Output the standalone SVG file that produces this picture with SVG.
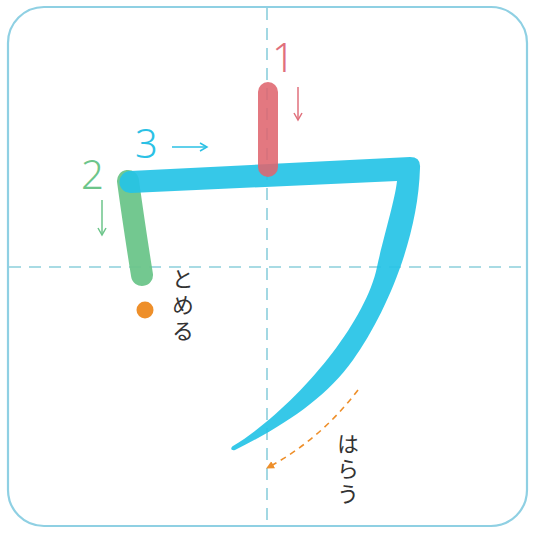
<svg xmlns="http://www.w3.org/2000/svg" width="534" height="534" viewBox="0 0 534 534">
<defs>
<style>
.guide{stroke:#8ccfdc;stroke-width:1.6;stroke-dasharray:12 8;fill:none}
.num{font-family:"Noto Sans","DejaVu Sans",sans-serif;font-size:40px;font-weight:300}
.jp{font-family:"Noto Sans CJK JP",sans-serif;font-size:22px;fill:#333;writing-mode:vertical-rl}
</style>
<marker id="ah-red" markerWidth="10" markerHeight="10" refX="8" refY="5" orient="auto" markerUnits="userSpaceOnUse"><path d="M1 1 L8 5 L1 9" fill="none" stroke="#e0707c" stroke-width="1.5"/></marker>
<marker id="ah-blue" markerWidth="10" markerHeight="10" refX="8" refY="5" orient="auto" markerUnits="userSpaceOnUse"><path d="M1 1 L8 5 L1 9" fill="none" stroke="#2bc1e5" stroke-width="1.5"/></marker>
<marker id="ah-green" markerWidth="10" markerHeight="10" refX="8" refY="5" orient="auto" markerUnits="userSpaceOnUse"><path d="M1 1 L8 5 L1 9" fill="none" stroke="#6cc58a" stroke-width="1.5"/></marker>
<marker id="ah-orange" markerWidth="10" markerHeight="10" refX="7" refY="5" orient="auto" markerUnits="userSpaceOnUse"><path d="M0 1 L8 5 L0 9 Z" fill="#ee8f2a"/></marker>
</defs>
<rect x="8" y="7" width="519" height="519" rx="36" ry="36" fill="#fff" stroke="#8fd0e3" stroke-width="2.2"/>
<g id="guides">
<line class="guide" x1="267" y1="8" x2="267" y2="526"/>
<line class="guide" x1="9" y1="267" x2="526" y2="267"/>
</g>
<g id="stroke2">
<path d="M128 181 Q134 225 142 275" fill="none" stroke="#6cc58a" stroke-width="22" stroke-linecap="round" opacity="0.95"/>
</g>
<g id="stroke3">
<path d="M130 171 L410 157 Q421 157 420 168 C418 240 385 315 353 360 C326 398 285 425 235 450 C231 451 230 448 233 446 C295 408 365 325 377 267 C382 243 395 200 397 181 L131 193 A11 11 0 0 1 130 171 Z" fill="#25c3e6" opacity="0.92"/>
</g>
<g id="stroke1">
<line x1="268" y1="92" x2="268" y2="167" stroke="#e0666f" stroke-width="20" stroke-linecap="round" opacity="0.88"/>
</g>
<g id="connectors">
<line x1="298" y1="87" x2="298" y2="120" stroke="#e0707c" stroke-width="1.5" marker-end="url(#ah-red)"/>
<line x1="172" y1="147" x2="207" y2="147" stroke="#2bc1e5" stroke-width="1.5" marker-end="url(#ah-blue)"/>
<line x1="102" y1="200" x2="102" y2="235" stroke="#6cc58a" stroke-width="1.5" marker-end="url(#ah-green)"/>
<path d="M358 390 Q320 440 267 468" fill="none" stroke="#ee8f2a" stroke-width="1.6" stroke-dasharray="6 5" marker-end="url(#ah-orange)"/>
</g>
<g id="labels">
<text class="num" x="272" y="72" fill="#e0707c">1</text>
<text class="num" x="81" y="189" fill="#6cc58a">2</text>
<text class="num" x="135" y="158" fill="#2bc1e5">3</text>
<circle cx="145" cy="310" r="8.5" fill="#ee8f2a"/>
<text class="jp" x="183" y="268" letter-spacing="4">とめる</text>
<text class="jp" x="348" y="433" letter-spacing="3">はらう</text>
</g>
</svg>
